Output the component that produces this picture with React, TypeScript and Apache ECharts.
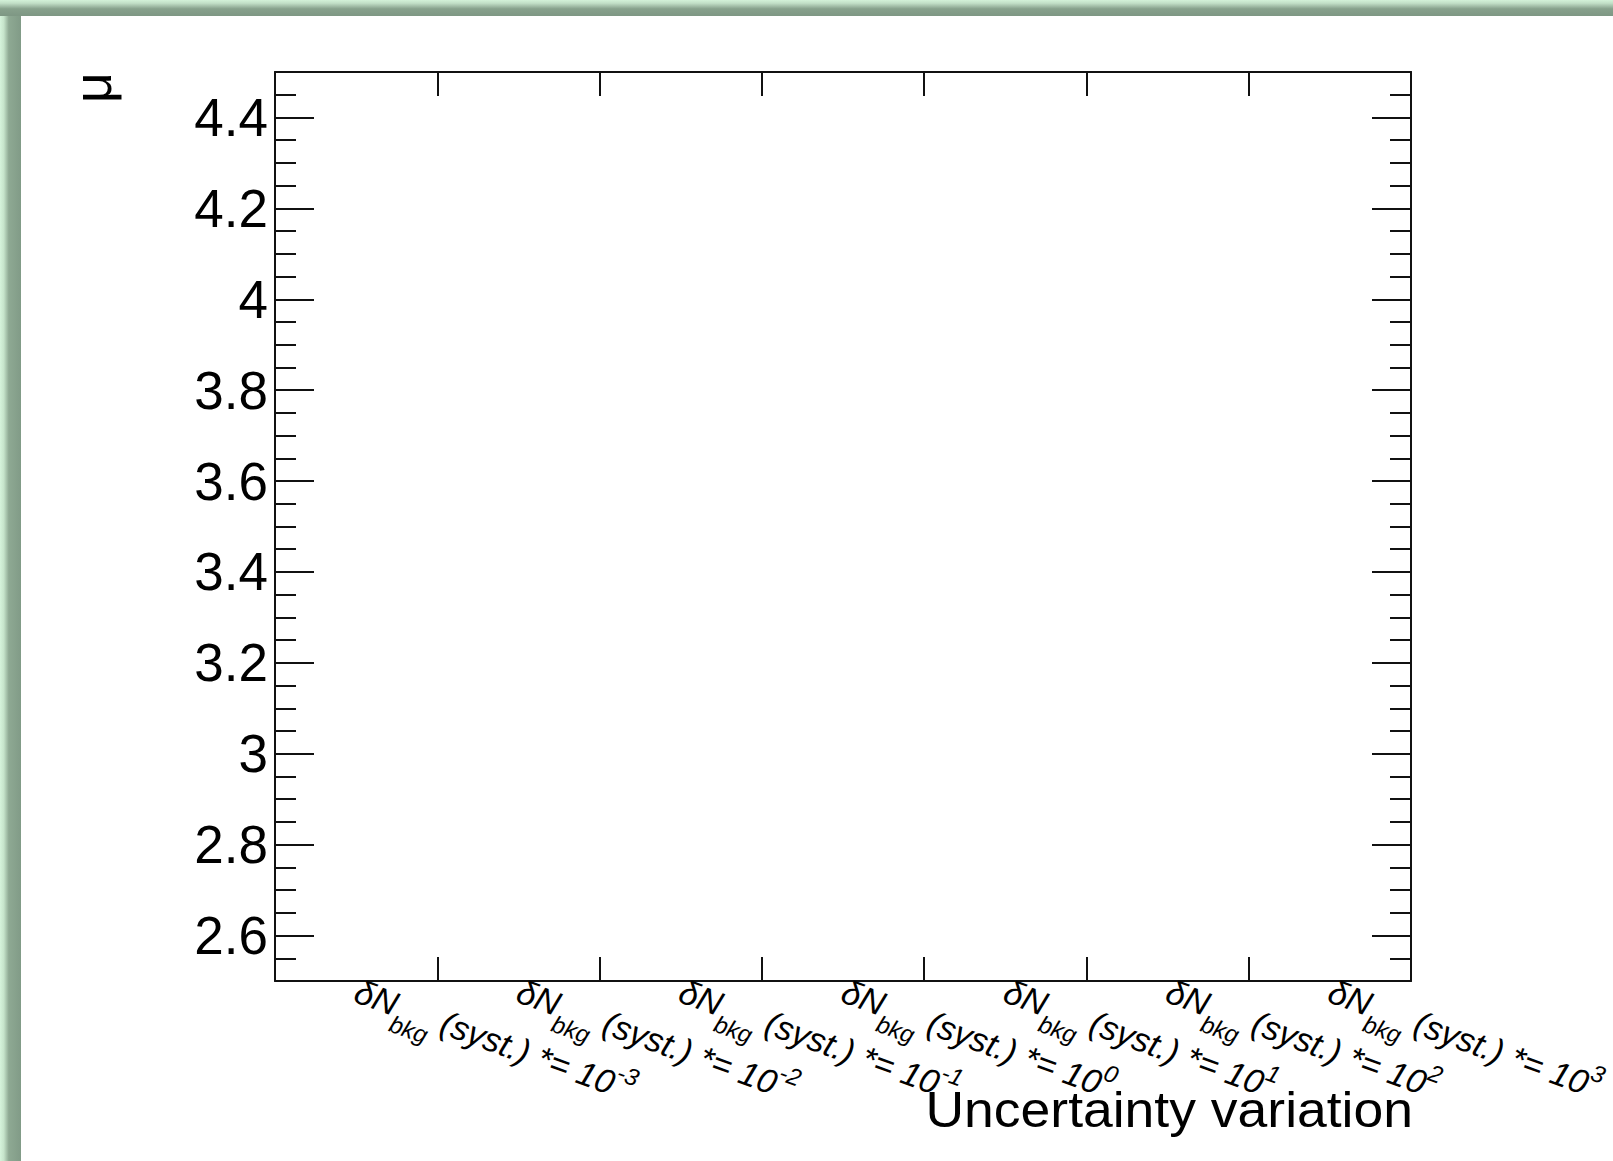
import React, { useEffect, useRef } from "react";
import * as echarts from "echarts";

// Scaling applied to the background systematic uncertainty, as powers of ten
const scaleExponents: string[] = ["-3", "-2", "-1", "0", "1", "2", "3"];
const categories: string[] = scaleExponents.map((e) => `δN_bkg (syst.) *= 10^${e}`);

// Signal-strength axis
const yRange: number[] = [2.5, 4.5];
const yMajorTicks: number[] = [2.6, 2.8, 3.0, 3.2, 3.4, 3.6, 3.8, 4.0, 4.2, 4.4];
const yMinorTicks: number[] = [
  2.55, 2.65, 2.7, 2.75, 2.85, 2.9, 2.95, 3.05, 3.1, 3.15, 3.25, 3.3, 3.35,
  3.45, 3.5, 3.55, 3.65, 3.7, 3.75, 3.85, 3.9, 3.95, 4.05, 4.1, 4.15, 4.25,
  4.3, 4.35, 4.45,
];

const yTitle = "μ";
const xTitle = "Uncertainty variation";

const W = 1613;
const H = 1161;
const FONT = '"Liberation Sans", Arial, Helvetica, sans-serif';
const INK = "#111111";

// Pad frame position in pixels
const FRAME = { left: 275, top: 72, right: 1411, bottom: 981 };

export default function App() {
  const ref = useRef<HTMLDivElement>(null);

  useEffect(() => {
    if (!ref.current) return;
    const chart = echarts.init(ref.current, null, { renderer: "svg" });

    const line = { color: INK, width: 2 };
    const xl = 34; // x label font size
    const sub = 24; // sub/superscript font size
    const lh = 37;

    const labelFormatter = (_v: string, i: number) =>
      `{n|δN}{sub|bkg}{n| (syst.) *= 10}{sup|${scaleExponents[i]}}`;

    const yFormatter = (v: number) => String(parseFloat(Number(v).toFixed(2)));

    const bevelH = new echarts.graphic.LinearGradient(0, 0, 1, 0, [
      { offset: 0, color: "#d6f4dc" },
      { offset: 0.18, color: "#c6e4cb" },
      { offset: 0.42, color: "#8ea993" },
      { offset: 1, color: "#819b87" },
    ]);
    const bevelV = new echarts.graphic.LinearGradient(0, 0, 0, 1, [
      { offset: 0, color: "#d3f1d8" },
      { offset: 0.2, color: "#c2dfc7" },
      { offset: 0.55, color: "#87a18c" },
      { offset: 1, color: "#7e9784" },
    ]);

    const minorAxis = (position: "left" | "right") => ({
      type: "value",
      position,
      min: yRange[0],
      max: yRange[1],
      axisLine: { show: false },
      axisTick: { show: true, inside: true, length: 21, customValues: yMinorTicks, lineStyle: line },
      axisLabel: { show: false },
      splitLine: { show: false },
    });

    const majorAxis = (position: "left" | "right", labels: boolean) => ({
      type: "value",
      position,
      min: yRange[0],
      max: yRange[1],
      axisLine: { show: true, onZero: false, lineStyle: line },
      axisTick: { show: true, inside: true, length: 39, customValues: yMajorTicks, lineStyle: line },
      axisLabel: labels
        ? {
            show: true,
            customValues: yMajorTicks,
            formatter: yFormatter,
            margin: 7,
            color: "#000",
            fontFamily: FONT,
            fontSize: 53,
            padding: [10, 0, 0, 0],
          }
        : { show: false },
      splitLine: { show: false },
    });

    const richBase = {
      fontFamily: FONT,
      fontStyle: "italic",
      color: "#000",
      lineHeight: lh,
      verticalAlign: "middle",
    };

    const option: any = {
      animation: false,
      backgroundColor: "#ffffff",
      grid: {
        left: FRAME.left,
        top: FRAME.top,
        right: W - FRAME.right,
        bottom: H - FRAME.bottom,
        containLabel: false,
        outerBoundsMode: "none",
      },
      xAxis: [
        {
          type: "category",
          data: categories,
          position: "bottom",
          boundaryGap: true,
          axisLine: { show: true, onZero: false, lineStyle: line },
          axisTick: { show: true, inside: true, length: 24, interval: 0, lineStyle: line },
          axisLabel: {
            show: true,
            interval: 0,
            rotate: -20,
            margin: 9,
            hideOverlap: false,
            formatter: labelFormatter,
            rich: {
              n: { ...richBase, fontSize: xl },
              sub: { ...richBase, fontSize: sub, padding: [38, 0, 0, 0] },
              sup: { ...richBase, fontSize: sub, padding: [0, 0, 26, 0] },
            },
          },
          splitLine: { show: false },
        },
        {
          type: "category",
          data: categories,
          position: "top",
          boundaryGap: true,
          axisLine: { show: true, onZero: false, lineStyle: line },
          axisTick: { show: true, inside: true, length: 24, interval: 0, lineStyle: line },
          axisLabel: { show: false },
          splitLine: { show: false },
        },
      ],
      yAxis: [
        majorAxis("left", true),
        minorAxis("left"),
        majorAxis("right", false),
        minorAxis("right"),
      ],
      series: [],
      graphic: [
        {
          type: "rect",
          shape: { x: 0, y: 0, width: 21, height: H },
          style: { fill: bevelH },
          z: 50,
        },
        {
          type: "rect",
          shape: { x: 0, y: 0, width: W, height: 16 },
          style: { fill: bevelV },
          z: 50,
        },
        {
          type: "text",
          x: 92,
          y: 72,
          rotation: Math.PI / 2,
          style: {
            text: yTitle,
            fontFamily: FONT,
            fontSize: 54,
            fill: "#000",
            textAlign: "right",
            align: "right",
            textVerticalAlign: "middle",
            verticalAlign: "middle",
          },
          z: 100,
        },
        {
          type: "text",
          x: 1413,
          y: 1110,
          scaleX: 1.07,
          style: {
            text: xTitle,
            fontFamily: FONT,
            fontSize: 50,
            fill: "#000",
            textAlign: "right",
            align: "right",
            textVerticalAlign: "middle",
            verticalAlign: "middle",
          },
          z: 100,
        },
      ],
    };

    chart.setOption(option);
    return () => chart.dispose();
  }, []);

  return (
    <div style={{ position: "fixed", left: 0, top: 0, width: W, height: H, background: "#fff" }}>
      <div ref={ref} style={{ width: W, height: H }} />
    </div>
  );
}
